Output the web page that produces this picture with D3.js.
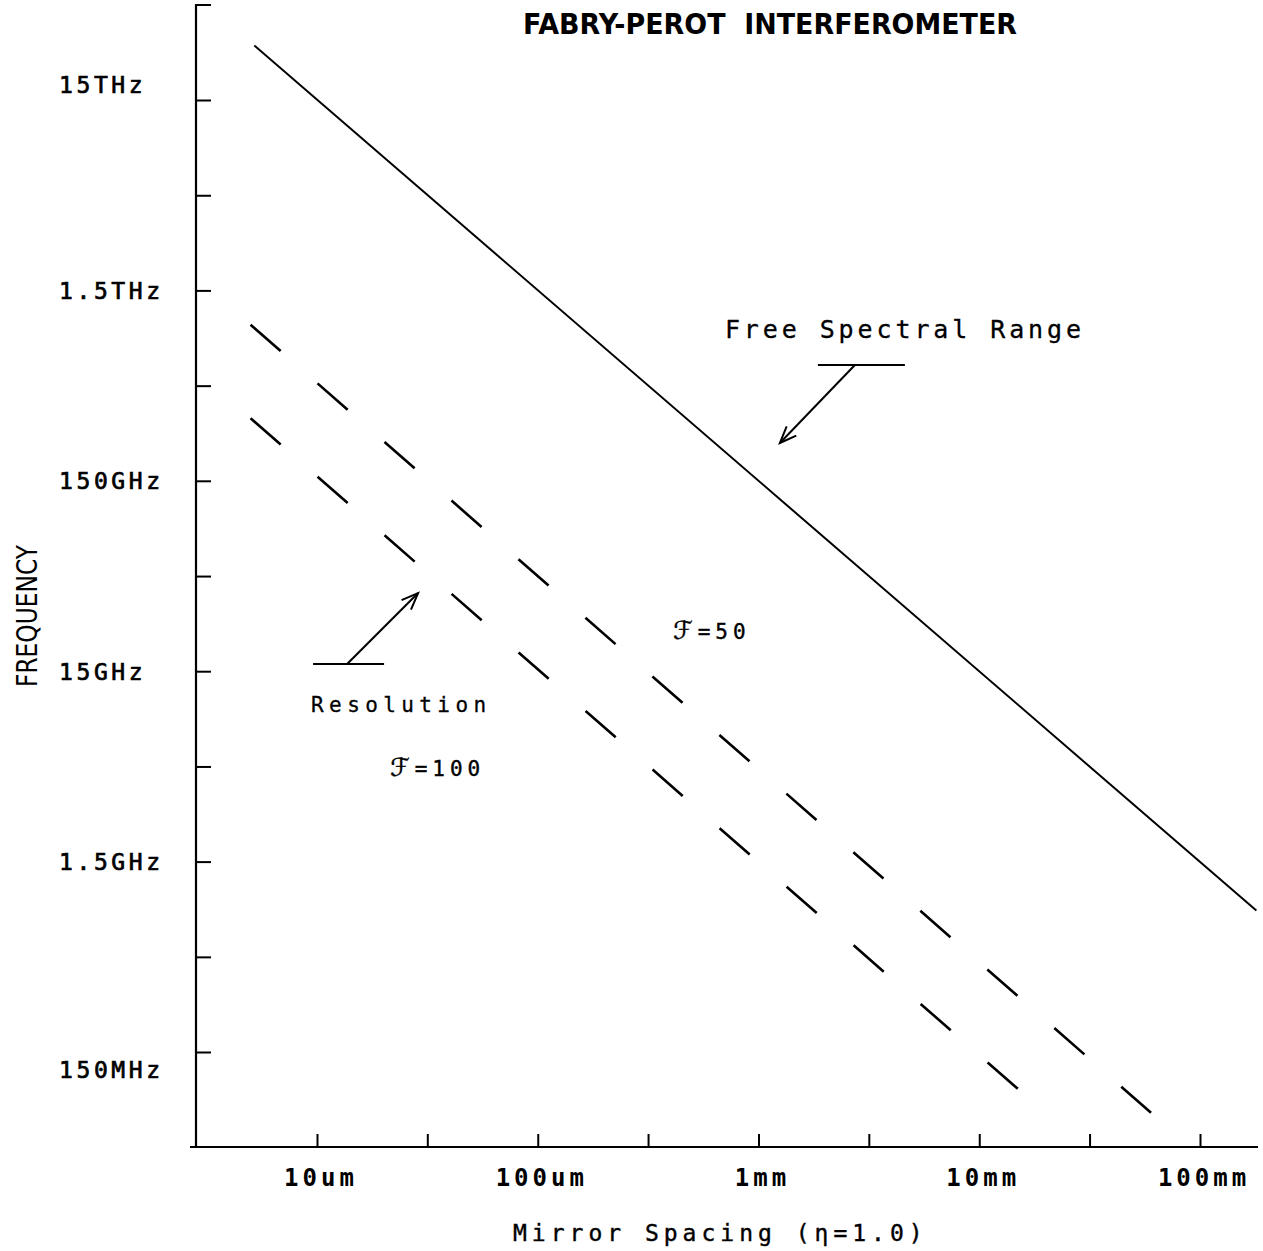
<!DOCTYPE html>
<html>
<head>
<meta charset="utf-8">
<script src="https://cdn.jsdelivr.net/npm/d3@7"></script>
<style>
  html, body { margin: 0; padding: 0; background: #fff; }
  svg { display: block; }
</style>
</head>
<body>
<svg id="chart" width="1263" height="1251"></svg>
<script>
// ---- Axis ticks (mirror spacing in metres, frequency in Hz) ----
const spacingTicks = [1e-5, 1e-4, 1e-3, 1e-2, 1e-1];
const spacingTickLabels = ["10um", "100um", "1mm", "10mm", "100mm"];
const spacingMinorTicks = [3.16e-5, 3.16e-4, 3.16e-3, 3.16e-2];

const freqTicks = [1.5e13, 1.5e12, 1.5e11, 1.5e10, 1.5e9, 1.5e8];
const freqTickLabels = ["15THz", "1.5THz", "150GHz", "15GHz", "1.5GHz", "150MHz"];
const freqMinorTicks = [4.74e12, 4.74e11, 4.74e10, 4.74e9, 4.74e8];

// ---- Curves ----
// Free spectral range
const fsrSpacing = [5.2e-6, 1.8e-1];
const fsrFreq = [2.9e13, 8.3e8];
// Resolution, finesse 50
const res50Spacing = [5.0e-6, 6.0e-2];
const res50Freq = [9.9e11, 7.2e7];
// Resolution, finesse 100
const res100Spacing = [5.0e-6, 1.56e-2];
const res100Freq = [3.2e11, 9.2e7];

// ---- Callout targets (spacing, frequency) ----
const fsrArrowTip = [1.25e-3, 2.37e11];
const resArrowTip = [2.87e-5, 3.86e10];

// ---- Layout ----
const ink = "#000";
const mono = "'DejaVu Sans Mono', 'Liberation Mono', monospace";
const frame = { left: 196, right: 1258, top: 5, bottom: 1147, xAxisStart: 190 };

const svg = d3.select("#chart");
const x = d3.scaleLog().domain([1e-5, 1e-1]).range([317, 1200]);
const y = d3.scaleLog().domain([1.5e13, 1.5e8]).range([100, 1052]);

// Title
svg.append("text")
  .attr("x", 523).attr("y", 34)
  .attr("textLength", 494).attr("lengthAdjust", "spacingAndGlyphs")
  .style("font-family", "'DejaVu Sans', sans-serif")
  .style("font-weight", "bold").style("font-size", "28px")
  .style("white-space", "pre")
  .attr("fill", ink)
  .text("FABRY-PEROT  INTERFEROMETER");

// Frame: left axis with a short stub at the top, bottom axis
svg.append("path")
  .attr("d", `M${frame.left + 15},${frame.top}H${frame.left}V${frame.bottom}`)
  .attr("fill", "none").attr("stroke", ink).attr("stroke-width", 2.2);
svg.append("line")
  .attr("x1", frame.xAxisStart).attr("x2", frame.right)
  .attr("y1", frame.bottom).attr("y2", frame.bottom)
  .attr("stroke", ink).attr("stroke-width", 2.2);

// Inward ticks drawn by d3 axes
svg.append("g")
  .attr("transform", `translate(0,${frame.bottom})`)
  .call(d3.axisBottom(x).tickValues([...spacingTicks, ...spacingMinorTicks]).tickSize(-13).tickFormat(""))
  .call(g => g.select(".domain").remove())
  .call(g => g.selectAll("line").attr("stroke", ink).attr("stroke-width", 2));

svg.append("g")
  .attr("transform", `translate(${frame.left},0)`)
  .call(d3.axisLeft(y).tickValues([...freqTicks, ...freqMinorTicks]).tickSize(-15).tickFormat(""))
  .call(g => g.select(".domain").remove())
  .call(g => g.selectAll("line").attr("stroke", ink).attr("stroke-width", 2));

// Tick labels (plotter-style, slightly heavy strokes)
const yLabelNudge = { "15THz": -16, "150MHz": 17 };
svg.append("g").selectAll("text")
  .data(d3.zip(freqTicks, freqTickLabels))
  .join("text")
  .attr("x", 59)
  .attr("y", d => y(d[0]) + 8.5 + (yLabelNudge[d[1]] || 0))
  .style("font-family", mono).style("font-size", "23px")
  .style("letter-spacing", "3.6px")
  .attr("fill", ink).attr("stroke", ink).attr("stroke-width", 0.7)
  .text(d => d[1]);

svg.append("g").selectAll("text")
  .data(d3.zip(spacingTicks, spacingTickLabels))
  .join("text")
  .attr("x", d => x(d[0]) + 4)
  .attr("y", 1186)
  .attr("text-anchor", "middle")
  .style("font-family", mono).style("font-size", "24px")
  .style("letter-spacing", "4px")
  .style("font-weight", "bold")
  .attr("fill", ink)
  .text(d => d[1]);

// Axis titles
svg.append("text")
  .attr("transform", "translate(37,616) rotate(-90)")
  .attr("text-anchor", "middle")
  .attr("textLength", 142).attr("lengthAdjust", "spacingAndGlyphs")
  .style("font-family", "'DejaVu Sans', sans-serif").style("font-size", "29px")
  .attr("fill", ink)
  .text("FREQUENCY");

svg.append("text")
  .attr("x", 513).attr("y", 1241)
  .style("font-family", mono).style("font-size", "23px")
  .style("letter-spacing", "5px")
  .attr("fill", ink).attr("stroke", ink).attr("stroke-width", 0.4)
  .text("Mirror Spacing (η=1.0)");

// Curves
const line = d3.line().x(d => x(d[0])).y(d => y(d[1]));

svg.append("path")
  .datum(d3.zip(fsrSpacing, fsrFreq))
  .attr("d", line)
  .attr("fill", "none").attr("stroke", ink).attr("stroke-width", 2);

[[res50Spacing, res50Freq], [res100Spacing, res100Freq]].forEach(([s, f]) => {
  svg.append("path")
    .datum(d3.zip(s, f))
    .attr("d", line)
    .attr("fill", "none").attr("stroke", ink).attr("stroke-width", 2.6)
    .attr("stroke-dasharray", "40,49");
});

// Callouts: leader bar, arrow to the curve, open arrow head
function callout(tip, tail, bar) {
  const [tx, ty] = [x(tip[0]), y(tip[1])];
  const [sx, sy] = [tx + tail[0], ty + tail[1]];
  const g = svg.append("g").attr("stroke", ink).attr("fill", "none").attr("stroke-width", 2);
  g.append("line").attr("x1", sx + bar[0]).attr("x2", sx + bar[1]).attr("y1", sy).attr("y2", sy);
  g.append("line").attr("x1", sx).attr("y1", sy).attr("x2", tx).attr("y2", ty);
  const ang = Math.atan2(ty - sy, tx - sx);
  const len = 18, spread = 0.38;
  const p1 = [tx - len * Math.cos(ang - spread), ty - len * Math.sin(ang - spread)];
  const p2 = [tx - len * Math.cos(ang + spread), ty - len * Math.sin(ang + spread)];
  g.append("path").attr("d", `M${p1}L${tx},${ty}L${p2}`).attr("stroke-linejoin", "miter");
  return [sx, sy];
}

const fsrTail = callout(fsrArrowTip, [75, -78], [-37, 50]);
svg.append("text")
  .attr("x", fsrTail[0] - 130).attr("y", fsrTail[1] - 27)
  .style("font-family", mono).style("font-size", "25px")
  .style("letter-spacing", "3.9px")
  .attr("fill", ink).attr("stroke", ink).attr("stroke-width", 0.3)
  .text("Free Spectral Range");

const resTail = callout(resArrowTip, [-71, 71], [-34, 37]);
svg.append("text")
  .attr("x", resTail[0] - 36).attr("y", resTail[1] + 48)
  .style("font-family", mono).style("font-size", "21px")
  .style("letter-spacing", "5.4px")
  .attr("fill", ink).attr("stroke", ink).attr("stroke-width", 0.3)
  .text("Resolution");

// Finesse labels: script F symbol followed by the value
const finesseLabels = [
  { symbol: "ℱ", value: "=50", x: 673, y: 639 },
  { symbol: "ℱ", value: "=100", x: 390, y: 776 }
];
const fl = svg.append("g").selectAll("text")
  .data(finesseLabels)
  .join("text")
  .attr("x", d => d.x).attr("y", d => d.y)
  .style("font-family", mono).style("font-size", "21px")
  .style("letter-spacing", "5px")
  .attr("fill", ink).attr("stroke", ink).attr("stroke-width", 0.4);
fl.append("tspan")
  .style("font-family", "'DejaVu Serif', 'DejaVu Sans', serif")
  .style("font-size", "25px")
  .text(d => d.symbol);
fl.append("tspan").text(d => d.value);
</script>
</body>
</html>
